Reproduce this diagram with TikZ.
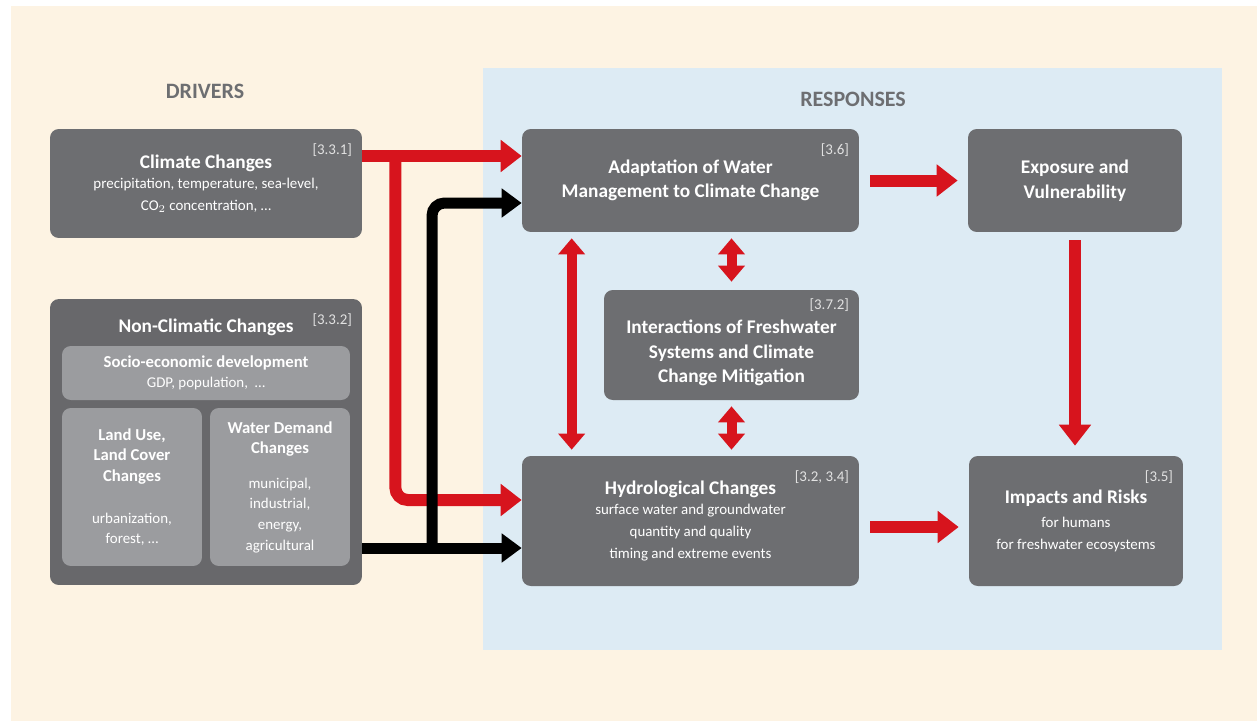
\documentclass[tikz,border=0pt]{standalone}
\usepackage{fontspec}
\setmainfont{Carlito}
\usepackage{xcolor}
\usetikzlibrary{arrows.meta,calc}

\definecolor{cream}{HTML}{FDF3E3}
\definecolor{paleblue}{HTML}{DDEBF4}
\definecolor{boxgray}{HTML}{6D6E71}
\definecolor{innergray}{HTML}{9B9C9F}
\definecolor{tagwhite}{HTML}{E2E2E2}
\definecolor{arrred}{HTML}{D7141D}

\newcommand{\ttlfont}{\bfseries\fontsize{11}{14}\selectfont}
\newcommand{\subttlfont}{\bfseries\fontsize{9.5}{11.6}\selectfont}
\newcommand{\txtfont}{\mdseries\fontsize{8.5}{12.5}\selectfont}
\newcommand{\subtxtfont}{\mdseries\fontsize{8.5}{11.7}\selectfont}

\tikzset{
  box/.style={fill=boxgray, rounded corners=5pt, text=white, align=center,
    inner sep=0pt, font=\txtfont},
  subbox/.style={box, fill=innergray, font=\subtxtfont},
  reftag/.style={text=tagwhite, font=\fontsize{8.5}{10}\selectfont, anchor=north east, inner sep=0pt},
  heading/.style={text=boxgray, font=\bfseries\fontsize{12.5}{15}\selectfont},
  redarr/.style={draw=arrred, line width=0.24cm, -{Triangle[length=0.42cm, width=0.62cm]}},
  redboth/.style={draw=arrred, line width=0.2cm, {Triangle[length=0.32cm, width=0.52cm]}-{Triangle[length=0.32cm, width=0.52cm]}},
  blackarr/.style={draw=black, line width=0.22cm, -{Triangle[length=0.4cm, width=0.56cm]}},
}

\begin{document}
\begin{tikzpicture}[x=0.02cm, y=-0.02cm]
  \useasboundingbox (0,0) rectangle (1257,721);
  \fill[white] (0,0) rectangle (1257,721);
  \fill[cream] (11,6) rectangle (1257,721);
  \fill[paleblue] (483,68) rectangle (1222,650);

  \node[heading] (drivers) at (205,91) {DRIVERS};
  \node[heading] (responses) at (853,99) {RESPONSES};

  % drivers
  \node[box, minimum width=6.24cm, minimum height=2.18cm] (climate) at (206,183.5)
    {\ttlfont Climate Changes\\[-1pt] precipitation, temperature, sea-level,\\ CO$_2$ concentration, \dots};
  \node[reftag] at ([xshift=-0.2cm, yshift=-0.3cm]climate.north east) {[3.3.1]};

  \node[box, fill=boxgray!95!black, minimum width=6.24cm, minimum height=5.72cm] (ncc) at (206,442) {};
  \node[reftag] at ([xshift=-0.2cm, yshift=-0.3cm]ncc.north east) {[3.3.2]};
  \node[text=white, font=\ttlfont] (ncctitle) at (206,327) {Non-Climatic Changes};
  \node[subbox, minimum width=5.76cm, minimum height=1.08cm] (socio) at (206,373)
    {\subttlfont Socio-economic development\\ GDP, population, \ \dots};
  \node[subbox, minimum width=2.8cm, minimum height=3.16cm] (landuse) at (132,487)
    {\subttlfont Land Use,\\ \subttlfont Land Cover\\ \subttlfont Changes\\[12pt] urbanization,\\ forest, \dots};
  \node[subbox, minimum width=2.8cm, minimum height=3.16cm] (demand) at (280,487)
    {\subttlfont Water Demand\\ \subttlfont Changes\\[8pt] municipal,\\ industrial,\\ energy,\\ agricultural};

  % responses
  \node[box, font=\ttlfont, minimum width=6.74cm, minimum height=2.06cm] (adapt) at (690.5,180.5)
    {Adaptation of Water\\ Management to Climate Change};
  \node[reftag] at ([xshift=-0.2cm, yshift=-0.3cm]adapt.north east) {[3.6]};

  \node[box, font=\ttlfont, minimum width=4.28cm, minimum height=2.06cm] (expose) at (1075,180.5)
    {Exposure and\\ Vulnerability};

  \node[box, minimum width=5.1cm, minimum height=2.2cm] (interact) at (731.5,345) {};
  \node[text=white, font=\ttlfont, align=center] (interacttxt) at (731.5,353)
    {Interactions of Freshwater\\ Systems and Climate\\ Change Mitigation};
  \node[reftag] at ([xshift=-0.2cm, yshift=-0.17cm]interact.north east) {[3.7.2]};

  \node[box, minimum width=6.74cm, minimum height=2.6cm] (hydro) at (690.5,521)
    {\ttlfont Hydrological Changes\\[-1pt] surface water and groundwater\\ quantity and quality\\ timing and extreme events};
  \node[reftag] at ([xshift=-0.2cm, yshift=-0.3cm]hydro.north east) {[3.2, 3.4]};

  \node[box, minimum width=4.28cm, minimum height=2.6cm] (impacts) at (1076,521)
    {\ttlfont Impacts and Risks\\[1pt] for humans\\ for freshwater ecosystems};
  \node[reftag] at ([xshift=-0.2cm, yshift=-0.3cm]impacts.north east) {[3.5]};

  % driver arrows
  \coordinate (redsplit) at ($(climate.east |- 0,156)+(33,0)$);
  \draw[redarr] (climate.east |- 0,156) -- (adapt.west |- 0,156);
  \draw[redarr, rounded corners=0.25cm] (redsplit) |- ([yshift=0.42cm]hydro.west);
  \coordinate (blacksplit) at (432,548);
  \draw[blackarr] (ncc.east |- blacksplit) -- (hydro.west |- blacksplit);
  \draw[blackarr, rounded corners=0.25cm] ([yshift=0.1cm]blacksplit) |- ([yshift=-0.45cm]adapt.west);

  % response arrows
  \draw[redarr, shorten <=0.22cm, shorten >=0.2cm] (adapt.east) -- (expose.west);
  \draw[redarr, shorten <=0.16cm, shorten >=0.2cm] (expose.south) -- (impacts.north -| expose.south);
  \draw[redarr, shorten <=0.22cm, shorten >=0.2cm] ([yshift=-0.12cm]hydro.east) -- ([yshift=-0.12cm]hydro.east -| impacts.west);
  \draw[redboth, shorten <=0.12cm, shorten >=0.12cm] ([xshift=1cm]adapt.south west) -- ([xshift=1cm]hydro.north west);
  \draw[redboth, shorten <=0.12cm, shorten >=0.16cm] (interact.north |- adapt.south) -- (interact.north);
  \draw[redboth, shorten <=0.12cm, shorten >=0.12cm] (interact.south) -- (interact.south |- hydro.north);
\end{tikzpicture}
\end{document}
